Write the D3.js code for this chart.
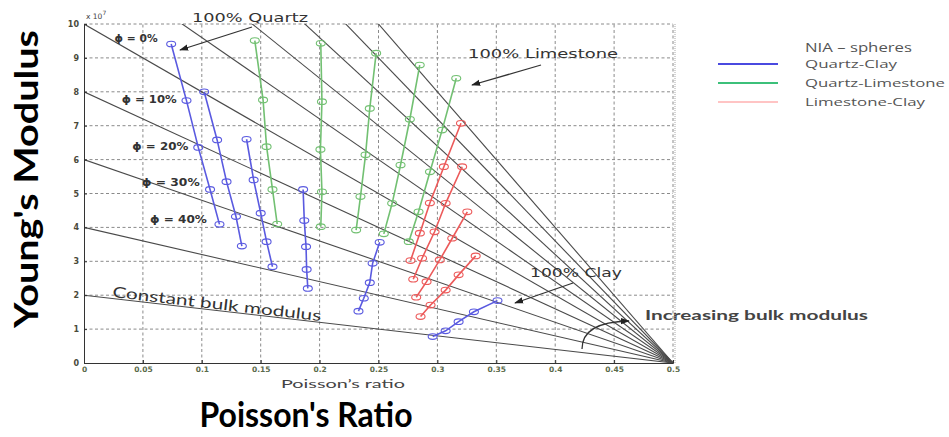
<!DOCTYPE html>
<html>
<head>
<meta charset="utf-8">
<script src="https://cdn.jsdelivr.net/npm/d3@7"></script>
<style>
  html, body { margin: 0; padding: 0; background: #fff; }
  svg { display: block; }
</style>
</head>
<body>
<svg id="chart" width="949" height="437"></svg>
<script>
// ---------------- DATA ----------------
const xTicks = [0, 0.05, 0.1, 0.15, 0.2, 0.25, 0.3, 0.35, 0.4, 0.45, 0.5];
const xTickLabels = ["0", "0.05", "0.1", "0.15", "0.2", "0.25", "0.3", "0.35", "0.4", "0.45", "0.5"];
const yTicks = [0, 1, 2, 3, 4, 5, 6, 7, 8, 9, 10];
const yTickLabels = ["0", "1", "2", "3", "4", "5", "6", "7", "8", "9", "10"];

// constant bulk modulus lines: Young's modulus at Poisson's ratio 0 (x 10^7), all reach 0 at 0.5
const bulkIntercepts = [2, 4, 6, 8, 10, 12, 14, 16, 18, 20];

// Quartz-Clay (blue) curves: [Poisson's ratio, Young's modulus x10^7]
const quartzClay = [
  [[0.074, 9.41], [0.087, 7.74], [0.097, 6.36], [0.107, 5.12], [0.115, 4.09]],
  [[0.102, 8.00], [0.113, 6.58], [0.121, 5.35], [0.129, 4.32], [0.134, 3.45]],
  [[0.138, 6.60], [0.144, 5.40], [0.150, 4.42], [0.155, 3.58], [0.160, 2.84]],
  [[0.186, 5.12], [0.187, 4.20], [0.1885, 3.43], [0.189, 2.76], [0.190, 2.20]],
  [[0.251, 3.56], [0.245, 2.94], [0.2426, 2.37], [0.2375, 1.91], [0.233, 1.53]],
  [[0.296, 0.78], [0.307, 0.95], [0.318, 1.22], [0.331, 1.51], [0.351, 1.84]]
];
// Quartz-Limestone (green) curves
const quartzLimestone = [
  [[0.145, 9.51], [0.152, 7.76], [0.155, 6.38], [0.160, 5.12], [0.164, 4.10]],
  [[0.201, 9.43], [0.202, 7.71], [0.2007, 6.30], [0.202, 5.05], [0.201, 4.02]],
  [[0.248, 9.14], [0.2426, 7.51], [0.239, 6.14], [0.2347, 4.91], [0.231, 3.92]],
  [[0.285, 8.79], [0.2766, 7.19], [0.2687, 5.84], [0.2616, 4.71], [0.2545, 3.81]],
  [[0.316, 8.40], [0.304, 6.87], [0.2937, 5.64], [0.284, 4.46], [0.2757, 3.58]]
];
// Limestone-Clay (red) curves
const limestoneClay = [
  [[0.320, 7.07], [0.3055, 5.79], [0.2936, 4.72], [0.2851, 3.83], [0.2772, 3.02]],
  [[0.321, 5.79], [0.307, 4.71], [0.2976, 3.87], [0.287, 3.09], [0.2795, 2.47]],
  [[0.3254, 4.46], [0.3126, 3.68], [0.302, 3.04], [0.2908, 2.40], [0.282, 1.94]],
  [[0.3325, 3.16], [0.318, 2.60], [0.307, 2.15], [0.2942, 1.71], [0.2857, 1.37]]
];

const legendNames = ["Quartz-Clay", "Quartz-Limestone", "Limestone-Clay"];
const porosityLabels = ["\u03d5 = 0%", "\u03d5 = 10%", "\u03d5 = 20%", "\u03d5 = 30%", "\u03d5 = 40%"];
const porosityAt = [[0.026, 9.47], [0.032, 7.67], [0.041, 6.28], [0.049, 5.22], [0.056, 4.13]];

// ---------------- DRAW ----------------
const svg = d3.select("#chart");
const x = d3.scaleLinear().domain([0, 0.5]).range([84, 673]);
const y = d3.scaleLinear().domain([0, 10]).range([363, 24]);

const defs = svg.append("defs");
defs.append("clipPath").attr("id", "plotclip")
  .append("rect").attr("x", x(0)).attr("y", y(10)).attr("width", x(0.5) - x(0) + 2).attr("height", y(0) - y(10));
defs.append("marker").attr("id", "arrow").attr("viewBox", "0 0 10 10")
  .attr("refX", 9).attr("refY", 5).attr("markerWidth", 7).attr("markerHeight", 7)
  .attr("orient", "auto-start-reverse")
  .append("path").attr("d", "M0,1.5 L10,5 L0,8.5 z").attr("fill", "#222");

// grid
const grid = svg.append("g").attr("stroke", "#8a8a8a").attr("stroke-width", 1).attr("stroke-dasharray", "3,2.5");
grid.selectAll("line.v").data(xTicks.slice(1)).join("line")
  .attr("x1", d => x(d)).attr("x2", d => x(d)).attr("y1", y(0)).attr("y2", y(10));
grid.selectAll("line.h").data(yTicks.slice(1)).join("line")
  .attr("x1", x(0)).attr("x2", x(0.5)).attr("y1", d => y(d)).attr("y2", d => y(d));

// constant bulk modulus lines
const bulk = svg.append("g").attr("clip-path", "url(#plotclip)");
bulk.selectAll("line").data(bulkIntercepts).join("line")
  .attr("x1", x(0)).attr("y1", d => y(d))
  .attr("x2", x(0.5)).attr("y2", y(0))
  .attr("stroke", "#4a4a4a").attr("stroke-width", 1.1);

// axes
const xAxis = d3.axisBottom(x).tickValues(xTicks).tickFormat((d, i) => xTickLabels[i]).tickSize(-3).tickPadding(4);
const gx = svg.append("g").attr("transform", `translate(0,${y(0)})`).call(xAxis);
gx.select(".domain").attr("stroke", "#333");
gx.selectAll(".tick line").attr("stroke", "#333");
gx.selectAll("text").attr("font-family", "DejaVu Sans, sans-serif").attr("font-size", 7.5)
  .attr("font-weight", "bold").attr("fill", "#5a6a4a");

const yAxis = d3.axisLeft(y).tickValues(yTicks).tickFormat((d, i) => yTickLabels[i]).tickSize(-3).tickPadding(5);
const gy = svg.append("g").attr("transform", `translate(${x(0)},0)`).call(yAxis);
gy.select(".domain").attr("stroke", "#333");
gy.selectAll(".tick line").attr("stroke", "#333");
gy.selectAll("text").attr("font-family", "DejaVu Sans, sans-serif").attr("font-size", 8)
  .attr("font-weight", "bold").attr("fill", "#4a4a3a");

svg.append("text").attr("x", x(0) + 2).attr("y", 19)
  .attr("font-family", "DejaVu Sans, sans-serif").attr("font-size", 7.5).attr("fill", "#444")
  .text("x 10").append("tspan").attr("dy", -4).attr("font-size", 6).text("7");

// data series
const lineGen = d3.line().x(d => x(d[0])).y(d => y(d[1]));
function drawGroup(lines, color) {
  const g = svg.append("g");
  lines.forEach(pts => {
    g.append("path").datum(pts).attr("d", lineGen)
      .attr("fill", "none").attr("stroke", color).attr("stroke-width", 1.6);
    g.selectAll(null).data(pts).join("ellipse")
      .attr("cx", d => x(d[0])).attr("cy", d => y(d[1]))
      .attr("rx", 4.5).attr("ry", 2.8)
      .attr("fill", "none").attr("stroke", color).attr("stroke-width", 1.1);
  });
}
drawGroup(quartzClay, "#5a5ae0");
drawGroup(quartzLimestone, "#72c072");
drawGroup(limestoneClay, "#ec5a5a");

// porosity labels
const porosityWidths = [43, 55, 56, 58, 57];
svg.append("g").selectAll("text").data(porosityLabels).join("text")
  .attr("x", (d, i) => x(porosityAt[i][0]))
  .attr("y", (d, i) => y(porosityAt[i][1]))
  .attr("font-family", "DejaVu Sans, sans-serif").attr("font-size", 10).attr("font-weight", "bold")
  .attr("textLength", (d, i) => porosityWidths[i]).attr("lengthAdjust", "spacingAndGlyphs")
  .attr("fill", "#333").text(d => d);

// annotations
const ann = svg.append("g").attr("font-family", "DejaVu Sans, sans-serif").attr("fill", "#333");
ann.append("text").attr("x", 192).attr("y", 22).attr("font-size", 13)
  .attr("textLength", 116).attr("lengthAdjust", "spacingAndGlyphs").text("100% Quartz");
ann.append("text").attr("x", 468).attr("y", 58).attr("font-size", 13)
  .attr("textLength", 150).attr("lengthAdjust", "spacingAndGlyphs").text("100% Limestone");
ann.append("text").attr("x", 530).attr("y", 277).attr("font-size", 13)
  .attr("textLength", 92).attr("lengthAdjust", "spacingAndGlyphs").text("100% Clay");
ann.append("text").attr("x", 645).attr("y", 320).attr("font-size", 14).attr("font-family", "Lato, sans-serif")
  .attr("font-weight", "bold").attr("fill", "#444")
  .attr("textLength", 223).attr("lengthAdjust", "spacingAndGlyphs").text("Increasing bulk modulus");
ann.append("text").attr("transform", `translate(112,297) rotate(6.6)`)
  .attr("font-size", 15).attr("font-family", "Lato, sans-serif")
  .attr("fill", "#333").attr("textLength", 210).attr("lengthAdjust", "spacingAndGlyphs")
  .text("Constant bulk modulus");

const arrows = svg.append("g").attr("stroke", "#333").attr("stroke-width", 1.3).attr("fill", "none");
arrows.append("line").attr("x1", 252).attr("y1", 27).attr("x2", 180).attr("y2", 50).attr("marker-end", "url(#arrow)");
arrows.append("line").attr("x1", 541).attr("y1", 65).attr("x2", 472).attr("y2", 85).attr("marker-end", "url(#arrow)");
arrows.append("line").attr("x1", 573).attr("y1", 283).attr("x2", 515).attr("y2", 303).attr("marker-end", "url(#arrow)");
arrows.append("path").attr("d", "M582,349 Q582,322 629,321").attr("marker-end", "url(#arrow)");

// axis titles
svg.append("text").attr("x", 343).attr("y", 388).attr("text-anchor", "middle")
  .attr("font-family", "Lato, sans-serif").attr("font-size", 12).attr("fill", "#444")
  .attr("textLength", 124).attr("lengthAdjust", "spacingAndGlyphs")
  .text("Poisson\u2019s ratio");
svg.append("text").attr("x", 306).attr("y", 427).attr("text-anchor", "middle")
  .attr("font-family", "Lato, sans-serif").attr("font-size", 35).attr("font-weight", "bold")
  .attr("fill", "#000").attr("textLength", 213).attr("lengthAdjust", "spacingAndGlyphs")
  .text("Poisson's Ratio");
svg.append("text").attr("transform", "translate(38,179) rotate(-90)").attr("text-anchor", "middle")
  .attr("font-family", "Lato, sans-serif").attr("font-size", 33).attr("font-weight", "bold")
  .attr("fill", "#000").attr("textLength", 298).attr("lengthAdjust", "spacingAndGlyphs")
  .text("Young's Modulus");

// legend
const legendColors = ["#4a4ae0", "#3cc07a", "#ffc4c4"];
const legendWidths = [92, 140, 120];
const lg = svg.append("g");
legendNames.forEach((name, i) => {
  const yy = 64 + i * 19;
  lg.append("line").attr("x1", 718).attr("x2", 778).attr("y1", yy).attr("y2", yy)
    .attr("stroke", legendColors[i]).attr("stroke-width", 2);
  lg.append("text").attr("x", 805).attr("y", yy + 4).attr("font-family", "Open Sans, sans-serif")
    .attr("font-size", 11.5).attr("fill", "#555")
    .attr("textLength", legendWidths[i]).attr("lengthAdjust", "spacingAndGlyphs").text(name);
});
lg.append("text").attr("x", 805).attr("y", 52).attr("font-family", "Open Sans, sans-serif")
  .attr("font-size", 12).attr("fill", "#555")
  .attr("textLength", 107).attr("lengthAdjust", "spacingAndGlyphs").text("NIA \u2013 spheres");

// right border (dotted)
svg.append("line").attr("x1", x(0.5) + 2).attr("x2", x(0.5) + 2).attr("y1", y(10)).attr("y2", y(0))
  .attr("stroke", "#aaa").attr("stroke-dasharray", "1,1");
</script>
</body>
</html>
